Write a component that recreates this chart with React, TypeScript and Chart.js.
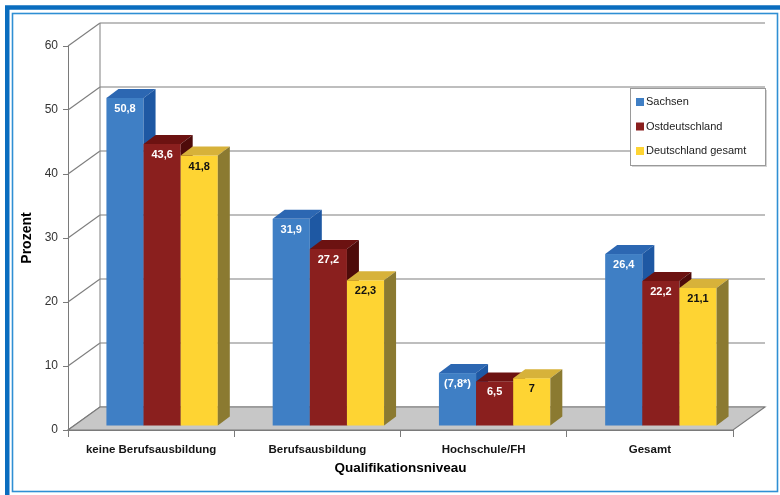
import { useEffect, useRef } from 'react';
import { Chart, registerables } from 'chart.js';

Chart.register(...registerables);

// ---- data ----
const categories = ['keine Berufsausbildung', 'Berufsausbildung', 'Hochschule/FH', 'Gesamt'];
const seriesNames = ['Sachsen', 'Ostdeutschland', 'Deutschland gesamt'];
const sachsen = [50.8, 31.9, 7.8, 26.4];
const ostdeutschland = [43.6, 27.2, 6.5, 22.2];
const deutschlandGesamt = [41.8, 22.3, 7, 21.1];
// values shown in brackets with an asterisk (footnoted)
const sachsenFootnoted = [false, false, true, false];
const ostFootnoted = [false, false, false, false];
const gesamtFootnoted = [false, false, false, false];
const yMin = 0;
const yMax = 60;
const yStep = 10;

// ---- styling ----
const FONT = '"Liberation Sans", Arial, Helvetica, sans-serif';
Chart.defaults.font.family = FONT;

const W = 780;
const H = 495;
const WALL_DX = 32; // depth of the back wall / floor
const WALL_DY = -23;
const BAR_DX = 11; // bar plane sits a little behind the front plane
const BAR_DY = -7;
const BOX_DX = 12; // depth of each bar
const BOX_DY = -9;
const FRONT_SINK = 3;

const faces = [
  { front: '#3f7fc5', top: '#2c67b2', side: '#1e58a3', label: '#ffffff' },
  { front: '#8a1f1e', top: '#6c1211', side: '#4e0b0a', label: '#ffffff' },
  { front: '#fed433', top: '#d7b23a', side: '#8b7a31', label: '#111111' },
];
const footnotes = [sachsenFootnoted, ostFootnoted, gesamtFootnoted];

const fmt = (v: number, starred: boolean) => {
  const s = v.toLocaleString('de-DE');
  return starred ? `(${s}*)` : s;
};

const scene3d = {
  id: 'scene3d',
  beforeDraw(chart: any) {
    const ctx = chart.ctx;
    ctx.save();
    ctx.fillStyle = '#ffffff';
    ctx.fillRect(0, 0, W, H);
    // outer blue band
    ctx.strokeStyle = '#0a6dbf';
    ctx.lineWidth = 4.5;
    ctx.strokeRect(7.25, 7.5, W + 10, H + 10);
    // inner thin frame
    ctx.strokeStyle = '#2f8fd4';
    ctx.lineWidth = 1.6;
    ctx.strokeRect(12.5, 13.5, 765, 478);
    ctx.restore();
  },
  beforeDatasetsDraw(chart: any) {
    const ctx = chart.ctx;
    const { left, right, top, bottom } = chart.chartArea;
    const yScale = chart.scales.y;
    ctx.save();
    // back wall gridlines and their diagonal ties to the front axis
    yScale.ticks.forEach((t: any) => {
      const yf = yScale.getPixelForValue(t.value);
      const yb = yf + WALL_DY;
      ctx.strokeStyle = '#a9a9a9';
      ctx.lineWidth = 1.3;
      ctx.beginPath();
      ctx.moveTo(left + WALL_DX, yb);
      ctx.lineTo(right + WALL_DX, yb);
      ctx.stroke();
      ctx.strokeStyle = '#7d7d7d';
      ctx.lineWidth = 1.1;
      ctx.beginPath();
      ctx.moveTo(left, yf);
      ctx.lineTo(left + WALL_DX, yb);
      ctx.stroke();
    });
    ctx.strokeStyle = '#8a8a8a';
    ctx.lineWidth = 1.1;
    ctx.beginPath();
    ctx.moveTo(left + WALL_DX, top + WALL_DY);
    ctx.lineTo(left + WALL_DX, bottom + WALL_DY);
    ctx.stroke();
    // floor
    ctx.fillStyle = '#c7c7c7';
    ctx.strokeStyle = '#7a7a7a';
    ctx.lineWidth = 1.1;
    ctx.beginPath();
    ctx.moveTo(left, bottom);
    ctx.lineTo(right, bottom);
    ctx.lineTo(right + WALL_DX, bottom + WALL_DY);
    ctx.lineTo(left + WALL_DX, bottom + WALL_DY);
    ctx.closePath();
    ctx.fill();
    ctx.stroke();
    ctx.restore();
  },
  beforeDatasetDraw() {
    // bars are drawn as boxes in afterDatasetsDraw
    return false;
  },
  afterDatasetsDraw(chart: any) {
    const ctx = chart.ctx;
    const metas = chart.data.datasets.map((_: any, i: number) => chart.getDatasetMeta(i));
    ctx.save();
    ctx.translate(BAR_DX, BAR_DY);
    for (let c = 0; c < categories.length; c++) {
      metas.forEach((meta: any, d: number) => {
        const el = meta.data[c];
        const { x, y, base, width } = el.getProps(['x', 'y', 'base', 'width'], true);
        const l = x - width / 2;
        const r = x + width / 2;
        const b = base + FRONT_SINK;
        const f = faces[d];
        // front
        ctx.fillStyle = f.front;
        ctx.fillRect(l, y, width, b - y);
        // top
        ctx.fillStyle = f.top;
        ctx.beginPath();
        ctx.moveTo(l, y);
        ctx.lineTo(r, y);
        ctx.lineTo(r + BOX_DX, y + BOX_DY);
        ctx.lineTo(l + BOX_DX, y + BOX_DY);
        ctx.closePath();
        ctx.fill();
        // side
        ctx.fillStyle = f.side;
        ctx.beginPath();
        ctx.moveTo(r, y);
        ctx.lineTo(r + BOX_DX, y + BOX_DY);
        ctx.lineTo(r + BOX_DX, b + BOX_DY);
        ctx.lineTo(r, b);
        ctx.closePath();
        ctx.fill();
      });
    }
    // value labels
    ctx.font = `bold 11px ${FONT}`;
    ctx.textAlign = 'center';
    ctx.textBaseline = 'middle';
    metas.forEach((meta: any, d: number) => {
      const values = chart.data.datasets[d].data as number[];
      meta.data.forEach((el: any, c: number) => {
        const { x, y } = el.getProps(['x', 'y'], true);
        ctx.fillStyle = faces[d].label;
        ctx.fillText(fmt(values[c], footnotes[d][c]), x, y + 11);
      });
    });
    ctx.restore();

    // legend box
    ctx.save();
    const lx = 630;
    const ly = 88;
    const lw = 135;
    const lh = 77;
    ctx.fillStyle = '#d4d4d4';
    ctx.fillRect(lx + 2, ly + 2, lw, lh);
    ctx.fillStyle = '#ffffff';
    ctx.fillRect(lx, ly, lw, lh);
    ctx.strokeStyle = '#9a9a9a';
    ctx.lineWidth = 1;
    ctx.strokeRect(lx + 0.5, ly + 0.5, lw, lh);
    ctx.font = `11px ${FONT}`;
    ctx.textAlign = 'left';
    ctx.textBaseline = 'middle';
    seriesNames.forEach((name, i) => {
      const cy = 102 + i * 24.5;
      ctx.fillStyle = faces[i].front;
      ctx.fillRect(lx + 6, cy - 4, 8, 8);
      ctx.fillStyle = '#222222';
      ctx.fillText(name, lx + 16, cy);
    });
    ctx.restore();
  },
};

export default function App() {
  const ref = useRef<HTMLCanvasElement>(null);

  useEffect(() => {
    if (!ref.current) return;
    const chart = new Chart(ref.current, {
      type: 'bar',
      data: {
        labels: categories,
        datasets: [
          { label: seriesNames[0], data: sachsen, backgroundColor: faces[0].front },
          { label: seriesNames[1], data: ostdeutschland, backgroundColor: faces[1].front },
          { label: seriesNames[2], data: deutschlandGesamt, backgroundColor: faces[2].front },
        ],
      },
      options: {
        responsive: false,
        animation: false,
        devicePixelRatio: 1,
        layout: { padding: { left: 0, top: 46, right: 47, bottom: 0 } },
        datasets: { bar: { categoryPercentage: 0.67, barPercentage: 1 } },
        plugins: {
          legend: { display: false },
          tooltip: { enabled: false },
        },
        scales: {
          x: {
            grid: { offset: true, drawOnChartArea: false, drawTicks: true, tickLength: 7, color: '#7a7a7a' },
            border: { display: true, color: '#7a7a7a' },
            ticks: {
              font: { family: FONT, size: 11.5, weight: 'bold' },
              color: '#151515',
              padding: 6,
              maxRotation: 0,
              autoSkip: false,
            },
            title: {
              display: true,
              text: 'Qualifikationsniveau',
              font: { family: FONT, size: 13.5, weight: 'bold' },
              color: '#000000',
              padding: { top: 0, bottom: 19 },
            },
            afterFit(scale: any) {
              scale.height = 65;
            },
          },
          y: {
            min: yMin,
            max: yMax,
            ticks: { stepSize: yStep, font: { family: FONT, size: 12 }, color: '#333333', padding: 5 },
            grid: { drawOnChartArea: false, drawTicks: true, tickLength: 5, color: '#7a7a7a' },
            border: { display: true, color: '#7a7a7a' },
            title: {
              display: true,
              text: 'Prozent',
              font: { family: FONT, size: 14, weight: 'bold' },
              color: '#000000',
              padding: { top: 19, bottom: 0 },
            },
            afterFit(scale: any) {
              scale.width = 68;
            },
          },
        },
      } as any,
      plugins: [scene3d],
    });
    return () => chart.destroy();
  }, []);

  return (
    <div style={{ position: 'absolute', left: 0, top: 0, width: W, height: H, background: '#ffffff' }}>
      <canvas ref={ref} width={W} height={H} style={{ display: 'block', width: W, height: H }} />
    </div>
  );
}
